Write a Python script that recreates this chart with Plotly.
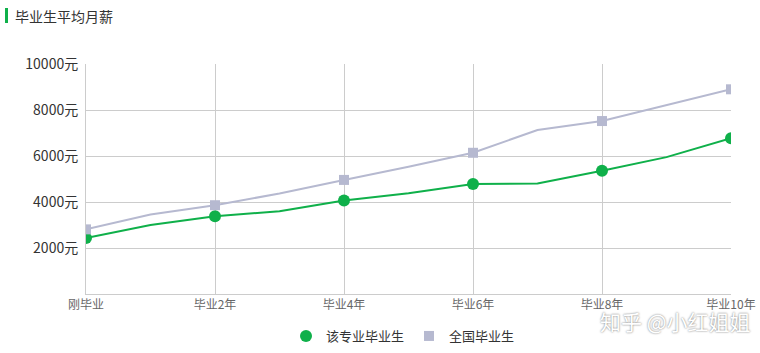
import plotly.graph_objects as go

categories = ["刚毕业", "毕业1年", "毕业2年", "毕业3年", "毕业4年", "毕业5年",
              "毕业6年", "毕业7年", "毕业8年", "毕业9年", "毕业10年"]
major_salary = [2430, 3000, 3380, 3600, 4070, 4380, 4780, 4800, 5360, 5950, 6770]
national_salary = [2810, 3460, 3860, 4370, 4960, 5530, 6140, 7130, 7520, 8210, 8900]
y_ticks = [2000, 4000, 6000, 8000, 10000]
y_ticktext = [f"{v}元" for v in y_ticks]

W, H = 760, 353
L, R, T, B = 86, 29, 64, 59
PW, PH = W - L - R, H - T - B

def px(x):
    return (x - L) / PW

def py(y):
    return (H - B - y) / PH

xs = list(range(len(categories)))
tick_idx = [0, 2, 4, 6, 8, 10]

GREEN = "#0fb04a"
GRAY = "#b6b9d0"
FONT = "Noto Sans CJK SC"

fig = go.Figure()
for name, vals, color, sym, size in [
    ("该专业毕业生", major_salary, GREEN, "circle", 12),
    ("全国毕业生", national_salary, GRAY, "square", 10),
]:
    fig.add_trace(go.Scatter(
        x=xs, y=vals, mode="lines", showlegend=False, legendgroup=name,
        line=dict(color=color, width=2), hoverinfo="skip",
    ))
    fig.add_trace(go.Scatter(
        x=[xs[i] for i in tick_idx], y=[vals[i] for i in tick_idx],
        name=name, mode="markers", legendgroup=name,
        marker=dict(symbol=sym, size=size, color=color),
    ))

fig.update_layout(
    width=W, height=H,
    margin=dict(l=L, r=R, t=T, b=B, autoexpand=False),
    paper_bgcolor="white", plot_bgcolor="white",
    font=dict(family=FONT, color="#333"),
    showlegend=True,
    legend=dict(orientation="h", x=px(403), xanchor="center", y=py(336), yanchor="middle",
                font=dict(size=13, color="#333"), itemwidth=30, traceorder="normal"),
    xaxis=dict(
        range=[0, 10], tickvals=tick_idx, ticktext=[categories[i] for i in tick_idx],
        showgrid=True, gridcolor="#cccccc", gridwidth=1,
        showline=True, linecolor="#cccccc", linewidth=1, mirror=False,
        ticks="", tickfont=dict(size=12, color="#666"), zeroline=False,
        fixedrange=True, automargin=False,
    ),
    yaxis=dict(
        range=[0, 10000], tickvals=y_ticks, ticktext=y_ticktext,
        showgrid=True, gridcolor="#cccccc", gridwidth=1,
        showline=True, linecolor="#cccccc", linewidth=1,
        ticks="", tickfont=dict(size=14, color="#333"), zeroline=False,
        fixedrange=True, automargin=False, ticklabelstandoff=4,
    ),
)

# title with green bar
fig.add_shape(type="rect", xref="paper", yref="paper",
              x0=px(5), x1=px(8), y0=py(23), y1=py(8),
              fillcolor=GREEN, line=dict(width=0))
fig.add_annotation(text="毕业生平均月薪", xref="paper", yref="paper",
                   x=px(13), y=py(15.5), xanchor="left", yanchor="middle",
                   showarrow=False, font=dict(size=14, color="#333", family=FONT))

# watermark
fig.add_annotation(text="知乎 @小红姐姐", xref="paper", yref="paper",
                   x=px(753), y=py(321), xanchor="right", yanchor="middle",
                   showarrow=False,
                   font=dict(size=21, color="white", family=FONT,
                             shadow="0px 0px 2px #666"))

fig.write_html("out.html")
